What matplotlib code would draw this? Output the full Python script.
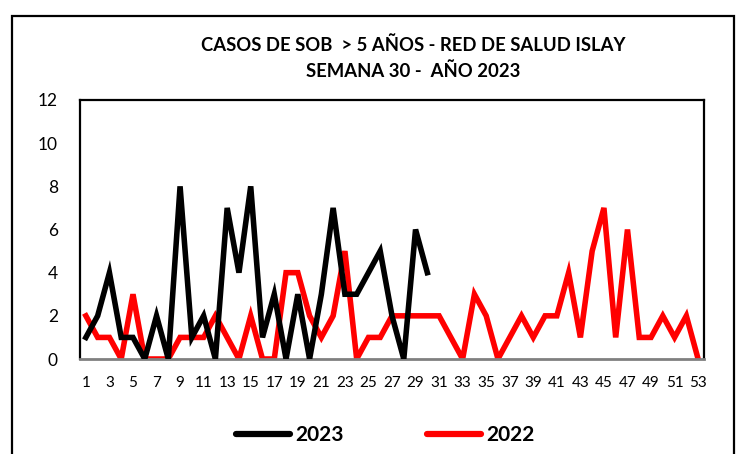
import matplotlib
matplotlib.use("Agg")
import matplotlib.pyplot as plt
from matplotlib.patches import Rectangle
from matplotlib.lines import Line2D

weeks = list(range(1, 54))
cases_2023 = [1, 2, 4, 1, 1, 0, 2, 0, 8, 1, 2, 0, 7, 4, 8, 1, 3, 0, 3, 0,
              3, 7, 3, 3, 4, 5, 2, 0, 6, 4]
cases_2022 = [2, 1, 1, 0, 3, 0, 0, 0, 1, 1, 1, 2, 1, 0, 2, 0, 0, 4, 4, 2,
              1, 2, 5, 0, 1, 1, 2, 2, 2, 2, 2, 1, 0, 3, 2, 0, 1, 2, 1, 2,
              2, 4, 1, 5, 7, 1, 6, 1, 1, 2, 1, 2, 0]
yticks = [0, 2, 4, 6, 8, 10, 12]
title = "CASOS DE SOB  > 5 AÑOS - RED DE SALUD ISLAY\nSEMANA 30 -  AÑO 2023"

plt.rcParams['font.family'] = ['Lato', 'DejaVu Sans']

fig = plt.figure(figsize=(7.37, 4.54), dpi=100)
ax = fig.add_axes([80/737, 95/454, 624/737, 259/454])

x23 = list(range(len(cases_2023)))
x22 = list(range(len(cases_2022)))
ax.plot(x22, cases_2022, color='#ff0000', lw=4, solid_joinstyle='miter', zorder=2)
ax.plot(x23, cases_2023, color='black', lw=4, solid_joinstyle='miter', zorder=3)

ax.set_xlim(-0.5, len(weeks) - 0.5)
ax.set_ylim(0, 12)
ax.set_yticks(yticks)
ax.set_yticklabels([str(v) for v in yticks], fontsize=12.5)
ax.set_xticks([i for i, w in enumerate(weeks) if w % 2 == 1])
ax.set_xticklabels([str(w) for w in weeks if w % 2 == 1], fontsize=11)
ax.tick_params(length=0)
ax.tick_params(axis='x', pad=12)
ax.tick_params(axis='y', pad=16)
for s in ['top', 'right', 'left']:
    ax.spines[s].set_linewidth(1.6)
    ax.spines[s].set_color('black')
ax.spines['bottom'].set_linewidth(2)
ax.spines['bottom'].set_color('#808080')

fig.text(413/737, 1 - 58/454, title, ha='center', va='center', fontsize=13.3,
         fontweight='bold', linespacing=1.55)

# outer border
fig.patches.append(Rectangle((12/737, -0.05), 722/737, 1.05 - 16/454,
                             transform=fig.transFigure, fill=False,
                             edgecolor='black', lw=1.6))

handles = [Line2D([], [], color='black', lw=4.5, solid_capstyle='round'),
           Line2D([], [], color='#ff0000', lw=4.5, solid_capstyle='round')]
fig.legend(handles, ['2023', '2022'], loc='center', bbox_to_anchor=(385/737, 1 - 435/454),
           ncol=2, frameon=False, handlelength=2.6, handletextpad=0.25, columnspacing=4.0,
           prop={'weight': 'bold', 'size': 15})

fig.savefig('out.png', dpi=100)
